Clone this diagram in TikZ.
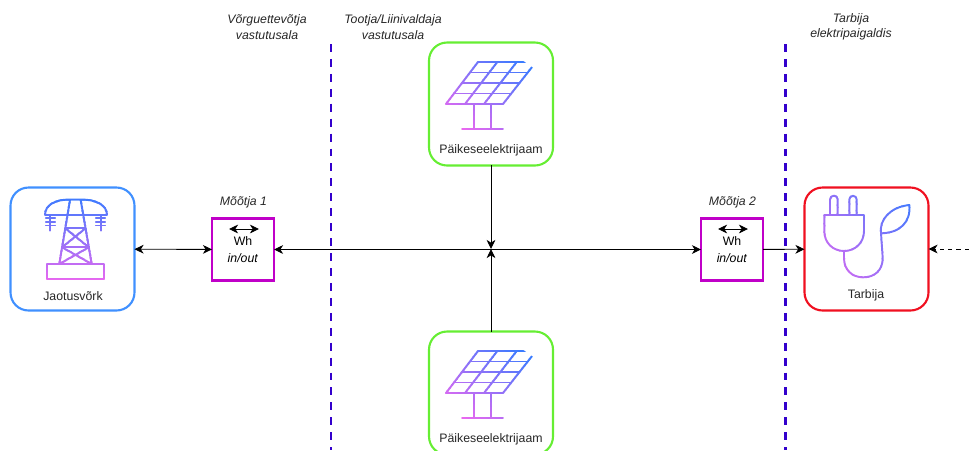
\documentclass[tikz,border=0pt]{standalone}
\usepackage{fontspec}
\setmainfont{Liberation Sans}
\usepackage{tikz}
\usetikzlibrary{arrows.meta}
\definecolor{IconBlue}{HTML}{3A7BFF}
\definecolor{IconPink}{HTML}{E868F0}
\definecolor{DivBlue}{HTML}{3300CC}
\definecolor{MeterPurple}{HTML}{C000C8}
\definecolor{SolarGreen}{HTML}{66EE33}
\definecolor{GridBlue}{HTML}{4090FF}
\definecolor{LoadRed}{HTML}{F01020}
\tikzset{
	box/.style={draw, line width=1.2pt, rounded corners=0.36cm, minimum width=2.48cm, minimum height=2.46cm, outer sep=0pt},
	meter/.style={draw=MeterPurple, line width=1.2pt, minimum width=1.24cm, minimum height=1.24cm, outer sep=0pt, align=center, inner sep=0pt, font=\fontsize{7}{9.4}\selectfont},
	txt/.style={font=\fontsize{7}{8.8}\selectfont, text=black!85, align=center, inner sep=0pt},
	divider/.style={DivBlue, line width=1.7pt, dash pattern=on 4.5pt off 4pt},
	conn/.style={line width=0.5pt, {Stealth[length=5.2pt,width=5pt,inset=1.6pt]}-{Stealth[length=5.2pt,width=5pt,inset=1.6pt]}},
	connto/.style={line width=0.5pt, -{Stealth[length=5.2pt,width=5pt,inset=1.6pt]}},
	iconline/.style={line width=1.1pt, line join=round, line cap=round},
}

% bands of colour, blue at the start and pink at the end
% #1 angle, #2 #3 centre, #4 half length, #5 drawing
\newcommand{\gradicon}[5]{
	\foreach \i in {0,...,23}{
		\pgfmathsetmacro{\pct}{100*\i/23}
		\pgfmathsetmacro{\bandA}{#3-#4+2*#4*\i/24-0.4}
		\pgfmathsetmacro{\bandB}{#3-#4+2*#4*(\i+1)/24+0.4}
		\colorlet{IconCol}{IconPink!\pct!IconBlue}
		\begin{scope}
			\clip[rotate around={#1:(#2,#3)}] (#2-120,\bandA) rectangle (#2+120,\bandB);
			#5
		\end{scope}
	}
}
% panel on its stand, dy moves it down
\newcommand{\solaricon}[1]{
	\begin{scope}[yshift=-#1*0.02cm]
		\gradicon{-35}{491}{95}{46}{
			\draw[iconline, IconCol] (478,62) -- (536,62) -- (503,104) -- (446,104) -- cycle;
			\draw[iconline, IconCol] (470,72.5) -- (527.7,72.5) (462,83) -- (519.5,83) (454,93.5) -- (511.2,93.5);
			\draw[iconline, IconCol] (497.3,62) -- (465,104) (516.7,62) -- (484,104);
			\draw[iconline, IconCol] (474.3,104) -- (474.3,129) (490.7,104) -- (490.7,129);
			\draw[iconline, IconCol] (462,129) -- (503,129);
		}
	\end{scope}
}

\begin{document}
\begin{tikzpicture}[x=0.02cm, y=-0.02cm]
	\useasboundingbox (0,0) rectangle (969,450);
	
	% Dividers
	\coordinate (DivLTop) at (331,44);
	\coordinate (DivLEnd) at (331,450);
	\coordinate (DivRTop) at (785,44);
	\coordinate (DivREnd) at (785,450);
	\draw[divider] (DivLTop) -- (DivLEnd);
	\draw[divider] (DivRTop) -- (DivREnd);
	
	% Areas
	\node[txt] (HeadGrid) at (267,27) {\textit{Võrguettevõtja}\\\textit{vastutusala}};
	\node[txt] (HeadProd) at (393,27) {\textit{Tootja/Liinivaldaja}\\\textit{vastutusala}};
	\node[txt] (HeadLoad) at (851,27) {\textit{Tarbija}\\\textit{elektripaigaldis}};
	
	% Boxes
	\node[box, draw=GridBlue] (Grid) at (72.5,249) {};
	\node[box, draw=SolarGreen] (SolarA) at (491,104) {};
	\node[box, draw=SolarGreen] (SolarB) at (491,393) {};
	\node[box, draw=LoadRed] (Load) at (866.5,249) {};
	\node[meter] (MeterA) at (243,249.5) {Wh\\\textit{in/out}};
	\node[meter] (MeterB) at (732,249.5) {Wh\\\textit{in/out}};
	
	\node[txt] (GridLabel) at (73,296) {Jaotusvõrk};
	\node[txt] (SolarALabel) at (491,150) {Päikeseelektrijaam};
	\node[txt] (SolarBLabel) at (491,439) {Päikeseelektrijaam};
	\node[txt] (LoadLabel) at (866,295) {Tarbija};
	\node[txt] (MeterALabel) at (243.5,202) {\textit{Mõõtja 1}};
	\node[txt] (MeterBLabel) at (732.5,202) {\textit{Mõõtja 2}};
	
	% Connectors
	\coordinate (Bus) at (491,249);
	\coordinate (Feed) at (969,249);
	\coordinate (MeterAL) at (229,229);
	\coordinate (MeterAR) at (259,229);
	\coordinate (MeterBL) at (718,229);
	\coordinate (MeterBR) at (748,229);
	
	\draw[conn] (Grid) -- (MeterA);
	\draw[conn] (MeterA) -- (MeterB);
	\draw[connto] (MeterB) -- (Load);
	\draw[connto] (SolarA) -- (Bus);
	\draw[connto] (SolarB) -- (Bus);
	\draw[connto, dash pattern=on 2.4pt off 2.4pt] (Feed) -- (Load);
	\draw[conn] (MeterAL) -- (MeterAR);
	\draw[conn] (MeterBL) -- (MeterBR);
	
	% Icons
	\solaricon{0}
	\solaricon{289}
	
	\gradicon{0}{75}{240}{44}{
		\draw[iconline, IconCol] (45,215) -- (107,215) (45,215) .. controls (45,205) and (55,199.5) .. (70,199.5) -- (81,199.5) .. controls (96,199.5) and (107,205) .. (107,215);
		\draw[iconline, IconCol] (70,200) -- (59.3,264) (80.7,200) -- (91.7,264);
		\draw[iconline, IconCol] (65.3,228.3) -- (85.5,228.3) (62.1,247.3) -- (88.8,247.3);
		\draw[iconline, IconCol] (65.3,228.3) -- (88.8,247.3) (85.5,228.3) -- (62.1,247.3);
		\draw[iconline, IconCol] (62.1,247.3) -- (91.7,264) (88.8,247.3) -- (59.3,264);
		\draw[iconline, IconCol] (47.3,264) rectangle (104,279.3);
		\draw[iconline, IconCol] (50,215) -- (50,230.7) (46,218.3) -- (55,218.3) (46,222) -- (55,222) (46,225.5) -- (55,225.5);
		\draw[iconline, IconCol] (100.7,215) -- (100.7,230.7) (96,218.3) -- (105,218.3) (96,222) -- (105,222) (96,225.5) -- (105,225.5);
	}
	
	\gradicon{-50}{866}{240}{66}{
		\draw[iconline, IconCol] (830,215) -- (830,199.5) arc[start angle=180, end angle=360, radius=3.85] -- (837.7,215);
		\draw[iconline, IconCol] (849.3,215) -- (849.3,199.5) arc[start angle=180, end angle=360, radius=3.7] -- (856.7,215);
		\draw[iconline, IconCol] (824.3,215) -- (864,215) -- (864,231) .. controls (864,243) and (855,251) .. (844,251) .. controls (833,251) and (824.3,243) .. (824.3,231) -- cycle;
		\draw[iconline, IconCol] (844,251) -- (844,258) .. controls (844,270) and (852,277.3) .. (863.3,277.3) .. controls (875,277.3) and (882.7,270) .. (882.7,258) -- (881,233.3);
		\draw[iconline, IconCol] (881,233.3) .. controls (879,220) and (890,207) .. (909.3,205) .. controls (911,222) and (900,233) .. (881,233.3) -- cycle;
	}
\end{tikzpicture}
\end{document}
